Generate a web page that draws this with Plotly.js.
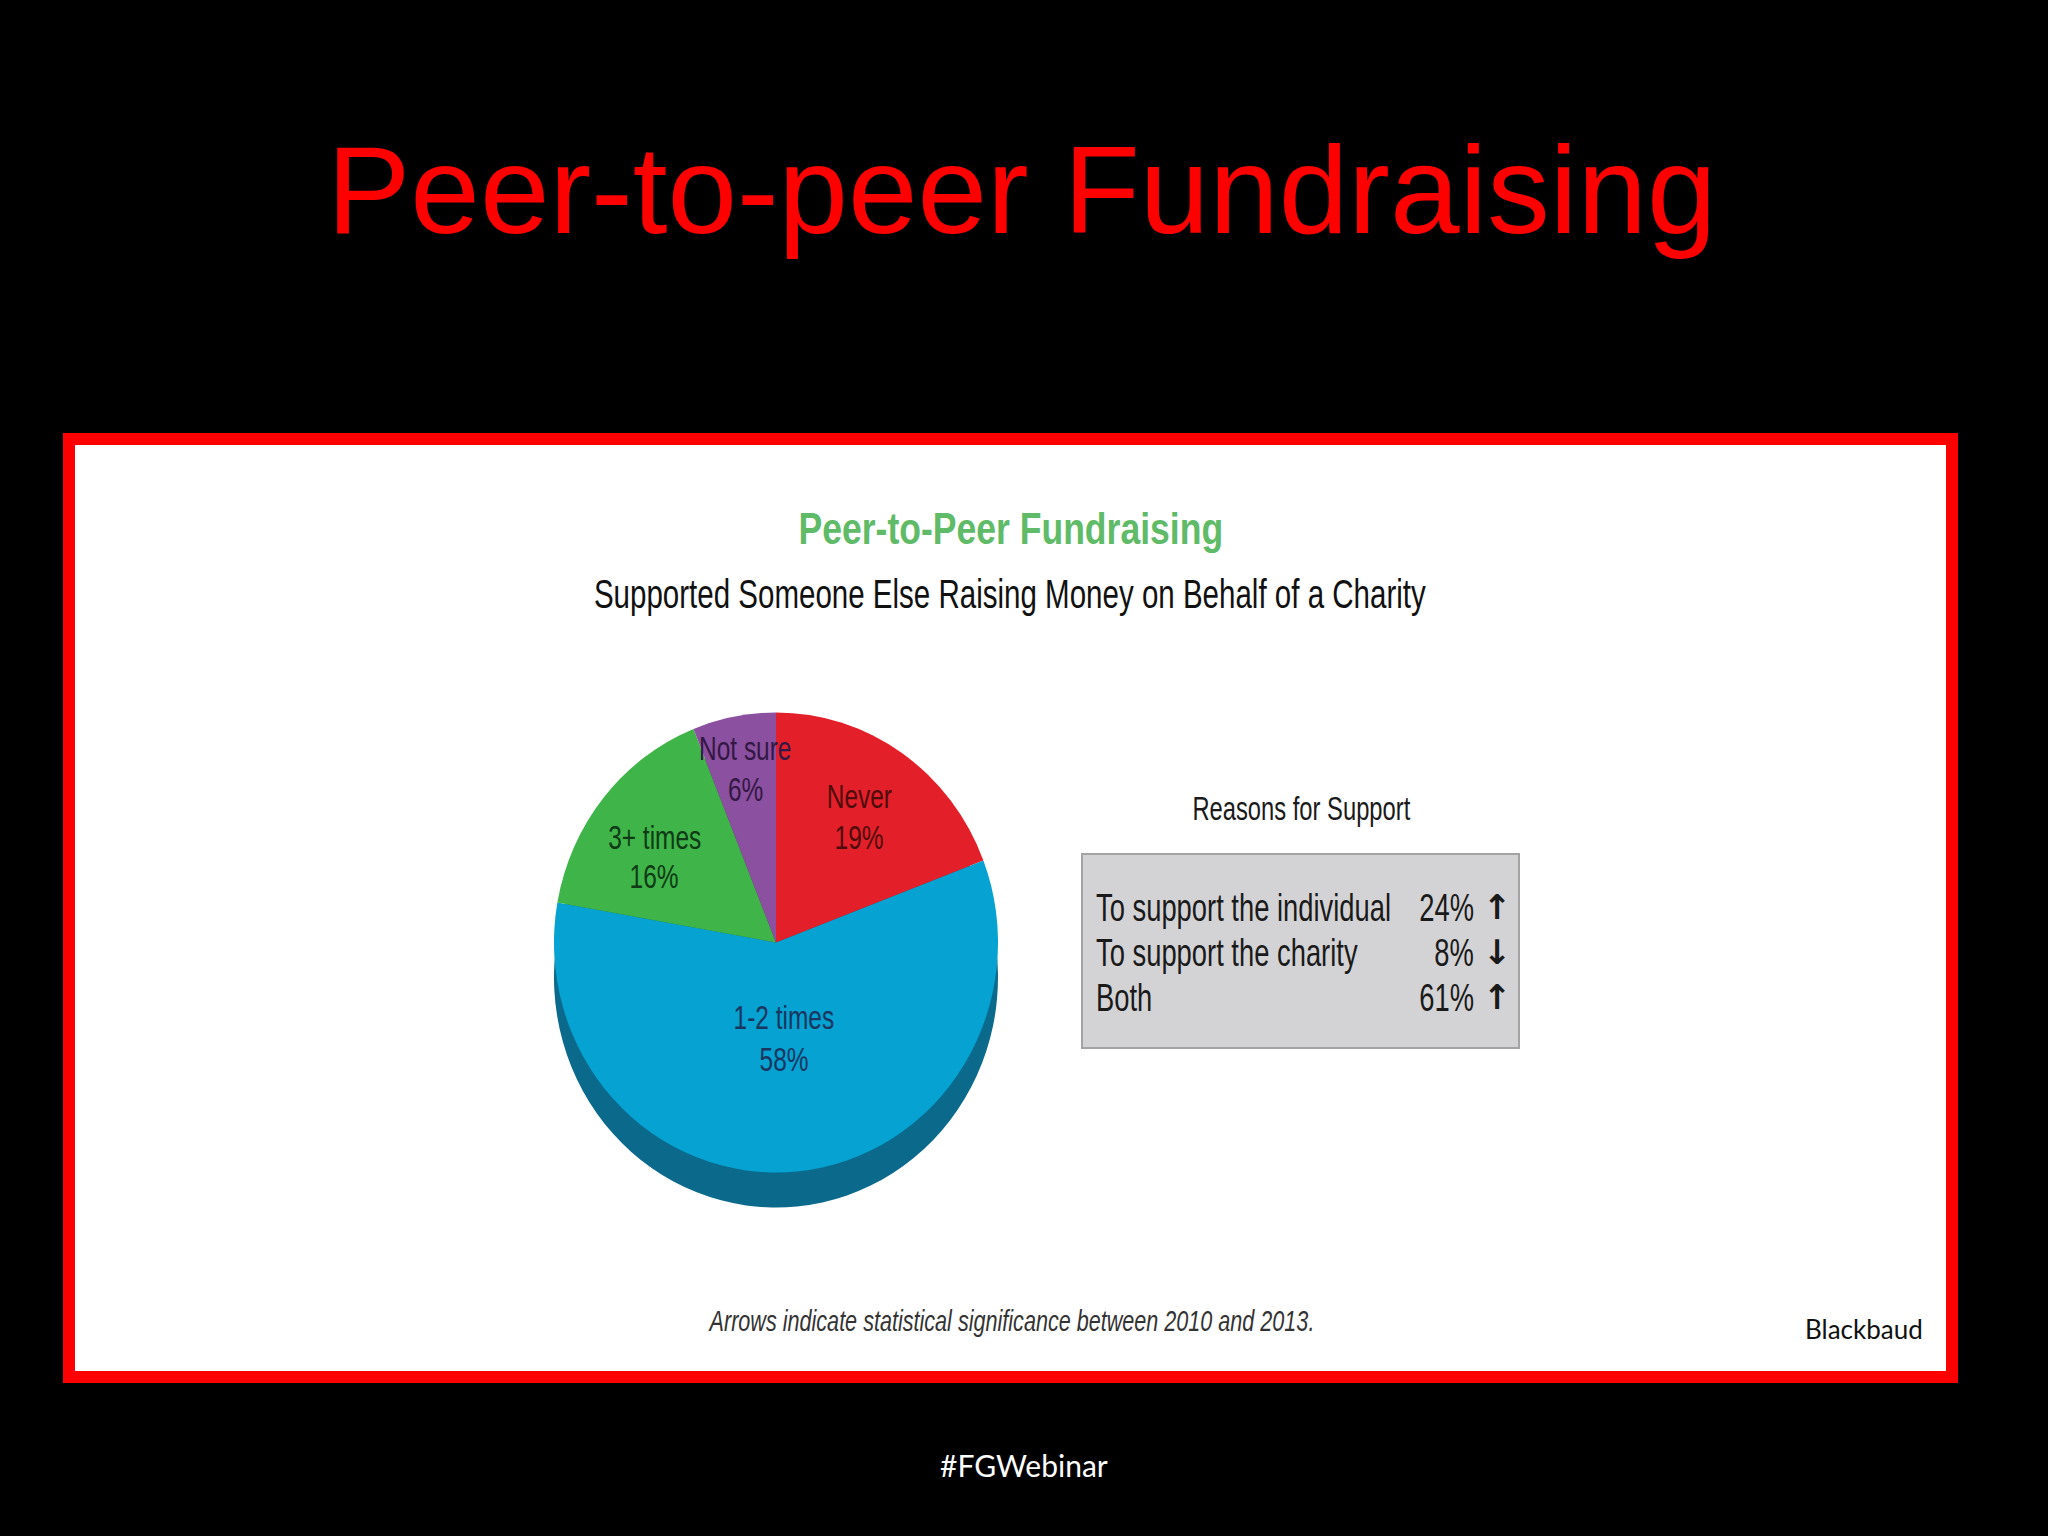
<!DOCTYPE html>
<html>
<head>
<meta charset="utf-8">
<script src="https://cdn.plot.ly/plotly-3.0.1.min.js"></script>
<style>
html,body{margin:0;padding:0;background:#000;}
#chart{width:2048px;height:1536px;}
</style>
</head>
<body>
<div id="chart"></div>
<script>
// ---- data ----
var sliceLabels = ["Never", "1-2 times", "3+ times", "Not sure"];
var sliceValues = [19, 58, 16, 6];
var reasons = ["To support the individual", "To support the charity", "Both"];
var reasonValues = [24, 8, 61];
var reasonTrend = ["up", "down", "up"];

var slideTitle = "Peer-to-peer Fundraising";
var chartTitle = "Peer-to-Peer Fundraising";
var chartSubtitle = "Supported Someone Else Raising Money on Behalf of a Charity";
var tableTitle = "Reasons for Support";
var footnote = "Arrows indicate statistical significance between 2010 and 2013.";
var sourceText = "Blackbaud";
var hashtag = "#FGWebinar";

// ---- styles ----
var W = 2048, H = 1536;
function px(x){ return x / W; }
function py(y){ return 1 - y / H; }

var sliceColors = ["#e3202a", "#05a2d2", "#3fb549", "#8b509f"];
var sideColors  = ["#8c141a", "#0b6a8c", "#25752d", "#573266"];
var labelColors = ["#4e0c0c", "#1a365e", "#0f3a15", "#331845"];
// [centre x, first line y, second line y]
var labelPos = [[859, 796, 837], [784, 1017, 1059], [654, 837, 876], [745, 748, 789]];

var SANS = "Liberation Sans, Arial, Helvetica, sans-serif";
var COND = 0.72, COND_BOLD = 0.79;

var cx = 776, cy = 942.5, R = 222, RY = 230, depth = 35;
var stretch = RY / R;

var pieTop = {
  type: "pie", labels: sliceLabels, values: sliceValues, sort: false,
  direction: "clockwise", rotation: 0,
  marker: {colors: sliceColors, line: {width: 0}},
  textinfo: "none", hoverinfo: "label+percent", showlegend: false,
  domain: {x: [px(cx - R), px(cx + R)], y: [py(cy + R), py(cy - R)]}
};
var pieSide = {
  type: "pie", labels: sliceLabels, values: sliceValues, sort: false,
  direction: "clockwise", rotation: 0,
  marker: {colors: sideColors, line: {width: 0}},
  textinfo: "none", hoverinfo: "skip", showlegend: false,
  domain: {x: [px(cx - R), px(cx + R)], y: [py(cy + depth + R), py(cy + depth - R)]}
};

var annotations = [];
var condense = [];
function ann(x, y, text, font, opts, squeeze){
  var a = {xref: "paper", yref: "paper", x: px(x), y: py(y), text: text,
           showarrow: false, font: font, xanchor: "center", yanchor: "middle"};
  if (opts) for (var k in opts) a[k] = opts[k];
  annotations.push(a);
  condense.push(squeeze ? {s: squeeze, anchor: a.xanchor} : null);
}

ann(1022, 190, slideTitle, {family: SANS, size: 125, color: "#ff0000"});
ann(1011, 528, chartTitle, {family: SANS, size: 45, weight: 700, color: "#5fbb67"}, null, COND_BOLD);
ann(1010, 594, chartSubtitle, {family: SANS, size: 41, color: "#111111"}, null, COND);

for (var i = 0; i < sliceLabels.length; i++) {
  ann(labelPos[i][0], labelPos[i][1], sliceLabels[i], {family: SANS, size: 34, color: labelColors[i]}, null, COND);
  ann(labelPos[i][0], labelPos[i][2], sliceValues[i] + "%", {family: SANS, size: 34, color: labelColors[i]}, null, COND);
}

ann(1301, 808, tableTitle, {family: SANS, size: 33, color: "#1a1a1a"}, null, COND);
var rowY = [908, 953, 998];
for (var j = 0; j < reasons.length; j++) {
  ann(1094, rowY[j], reasons[j], {family: SANS, size: 38, color: "#1a1a1a"}, {xanchor: "left"}, COND);
  ann(1476, rowY[j], reasonValues[j] + "%", {family: SANS, size: 38, color: "#1a1a1a"}, {xanchor: "right"}, COND);
  ann(1497, rowY[j] - 1, reasonTrend[j] === "up" ? "↑" : "↓",
      {family: "DejaVu Sans, sans-serif", size: 34, weight: 700, color: "#1a1a1a"});
}

ann(1011, 1320, footnote, {family: SANS, size: 30, style: "italic", color: "#333333"}, null, COND);
ann(1864, 1329, sourceText, {family: "Lato, Open Sans, sans-serif", size: 26, color: "#111111"});
ann(1024, 1465, hashtag, {family: "Lato, Open Sans, sans-serif", size: 30, color: "#ffffff"});

var shapes = [
  {type: "rect", xref: "paper", yref: "paper", layer: "below",
   x0: px(69), x1: px(1952), y0: py(439), y1: py(1377),
   fillcolor: "#ffffff", line: {color: "#ff0000", width: 12}},
  {type: "rect", xref: "paper", yref: "paper", layer: "below",
   x0: px(1082), x1: px(1519), y0: py(854), y1: py(1048),
   fillcolor: "#d3d3d5", line: {color: "#a3a3a3", width: 2}}
];

var layout = {
  width: W, height: H, autosize: false,
  margin: {l: 0, r: 0, t: 0, b: 0, pad: 0},
  paper_bgcolor: "#000000", plot_bgcolor: "#000000",
  showlegend: false,
  annotations: annotations, shapes: shapes
};

Plotly.newPlot("chart", [pieSide, pieTop], layout, {displayModeBar: false, staticPlot: true}).then(function(gd){
  // condensed type (the source uses a condensed grotesque)
  condense.forEach(function(c, idx){
    if (!c) return;
    var t = gd.querySelector('.annotation[data-index="' + idx + '"] text.annotation-text');
    if (!t) return;
    var b = t.getBBox();
    var ox = c.anchor === "left" ? b.x : (c.anchor === "right" ? b.x + b.width : b.x + b.width / 2);
    t.setAttribute("transform", "translate(" + ox + ",0) scale(" + c.s + ",1) translate(" + (-ox) + ",0)");
  });
  // the source pie is drawn slightly taller than wide
  var traces = gd.querySelectorAll(".pielayer .trace");
  var centres = [cy + depth, cy];
  traces.forEach(function(g, k){
    var c = centres[k];
    g.setAttribute("transform", "translate(0," + c + ") scale(1," + stretch + ") translate(0," + (-c) + ")");
  });
});
</script>
</body>
</html>
